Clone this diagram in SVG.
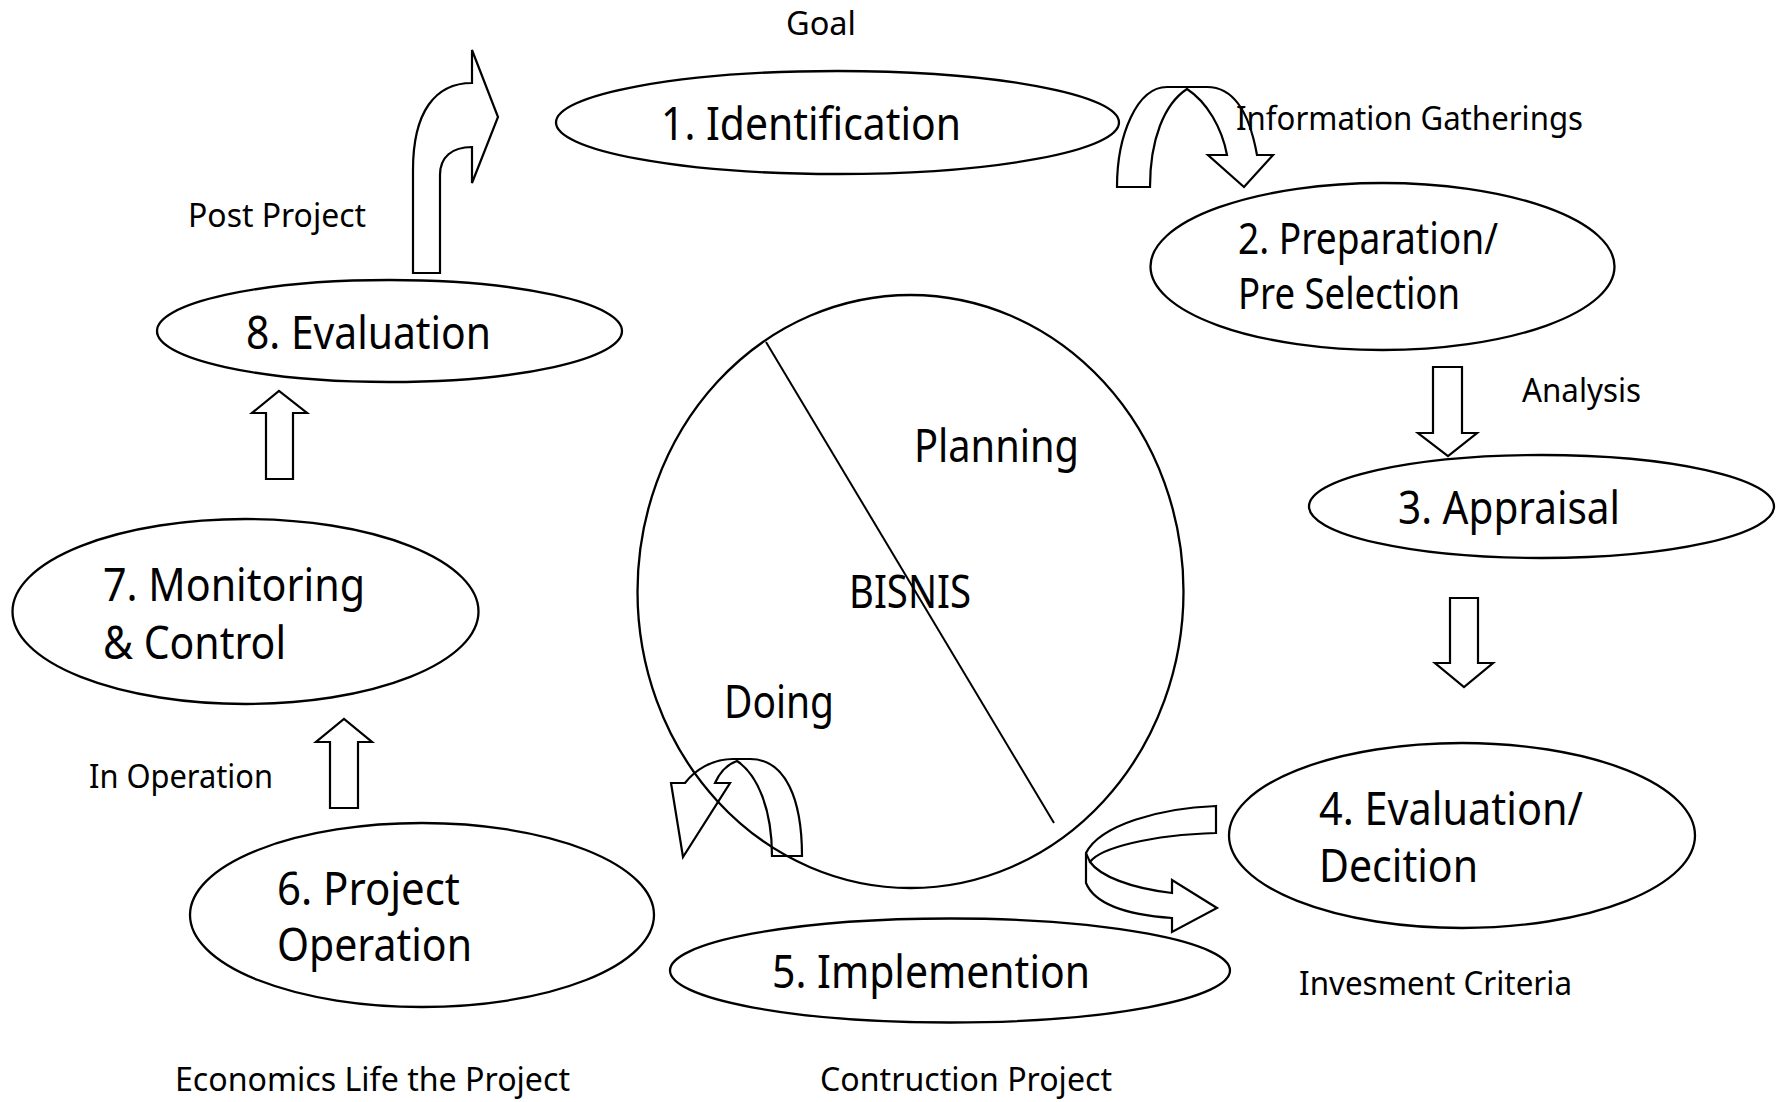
<svg xmlns="http://www.w3.org/2000/svg" width="1786" height="1102" viewBox="0 0 1786 1102">
  <style>
    .node { fill: none; stroke: #000; stroke-width: 2.3; }
    .arrow { fill: none; stroke: #000; stroke-width: 2.2; stroke-linejoin: miter; }
    .big { font-family: "Noto Sans", "Liberation Sans", sans-serif; font-size: 45px; fill: #000; }
    .tight { font-size: 43px; }
    .small { font-family: "Noto Sans", "Liberation Sans", sans-serif; font-size: 32px; fill: #000; }
  </style>
  <rect width="1786" height="1102" fill="#fff"/>

  <!-- central business circle -->
  <g id="bisnis">
    <ellipse class="node" cx="910.5" cy="591.5" rx="273" ry="296.5"/>
    <line x1="766" y1="342" x2="1054" y2="823" stroke="#000" stroke-width="2"/>
    <text class="big" x="914" y="462" textLength="165" lengthAdjust="spacingAndGlyphs">Planning</text>
    <text class="big" x="849" y="608" textLength="122" lengthAdjust="spacingAndGlyphs">BISNIS</text>
    <text class="big" x="724" y="718" textLength="110" lengthAdjust="spacingAndGlyphs">Doing</text>
  </g>

  <g id="identification">
    <ellipse class="node" cx="837.5" cy="122.5" rx="281.5" ry="51.5"/>
    <text class="big" x="661" y="140" textLength="300" lengthAdjust="spacingAndGlyphs">1. Identification</text>
  </g>

  <g id="preparation">
    <ellipse class="node" cx="1382.5" cy="266.5" rx="232" ry="83.5"/>
    <text class="big tight" x="1238" y="254" textLength="260" lengthAdjust="spacingAndGlyphs">2. Preparation/</text>
    <text class="big tight" x="1238" y="309" textLength="222" lengthAdjust="spacingAndGlyphs">Pre Selection</text>
  </g>

  <g id="appraisal">
    <ellipse class="node" cx="1541.5" cy="506.5" rx="232.5" ry="51.5"/>
    <text class="big" x="1398" y="524" textLength="222" lengthAdjust="spacingAndGlyphs">3. Appraisal</text>
  </g>

  <g id="decision">
    <ellipse class="node" cx="1462" cy="835.5" rx="233" ry="92.5"/>
    <text class="big" x="1319" y="825" textLength="264" lengthAdjust="spacingAndGlyphs">4. Evaluation/</text>
    <text class="big" x="1319" y="882" textLength="159" lengthAdjust="spacingAndGlyphs">Decition</text>
  </g>

  <g id="implementation">
    <ellipse class="node" cx="950" cy="970.5" rx="280" ry="52"/>
    <text class="big" x="772" y="988" textLength="318" lengthAdjust="spacingAndGlyphs">5. Implemention</text>
  </g>

  <g id="operation">
    <ellipse class="node" cx="422" cy="915" rx="232" ry="92"/>
    <text class="big" x="277" y="905" textLength="183" lengthAdjust="spacingAndGlyphs">6. Project</text>
    <text class="big" x="277" y="961" textLength="195" lengthAdjust="spacingAndGlyphs">Operation</text>
  </g>

  <g id="monitoring">
    <ellipse class="node" cx="245.5" cy="611.5" rx="233" ry="92.5"/>
    <text class="big" x="103" y="601" textLength="262" lengthAdjust="spacingAndGlyphs">7. Monitoring</text>
    <text class="big" x="103" y="659" textLength="183" lengthAdjust="spacingAndGlyphs">&amp; Control</text>
  </g>

  <g id="evaluation">
    <ellipse class="node" cx="389.5" cy="331" rx="232.5" ry="51"/>
    <text class="big" x="246" y="349" textLength="245" lengthAdjust="spacingAndGlyphs">8. Evaluation</text>
  </g>

  <!-- block arrows between the stages -->
  <g id="connectors">
    <!-- 8 -> 1, bent up and to the right -->
    <path class="arrow" d="M413,273 L440,273 L440,175 C440,157 452,147 472,147 L472,183 L498,117 L472,50 L472,83 C435,83 413,112 413,170 Z"/>
    <!-- 1 -> 2, arched -->
    <path class="arrow" d="M1117,187 L1150,187 C1150,140 1164,104 1187,89 C1207,102 1222,128 1227,155 L1208,155 L1244,187 L1273,155 L1257,155 C1250,116 1236,87 1207,87 L1167,87 C1137,87 1117,135 1117,187 Z"/>
    <!-- 2 -> 3 -->
    <path class="arrow" d="M1433,367 L1462,367 L1462,433 L1477,433 L1448,456 L1418,433 L1433,433 Z"/>
    <!-- 3 -> 4 -->
    <path class="arrow" d="M1450,598 L1478,598 L1478,663 L1493,663 L1464,687 L1435,663 L1450,663 Z"/>
    <!-- 4 -> 5, curling back -->
    <path class="arrow" d="M1216,806 C1160,808 1100,825 1086,853 L1086,883 C1095,905 1130,915 1172,918 L1172,932 L1217,908 L1172,880 L1172,893 C1130,888 1100,876 1090,862 C1100,848 1150,835 1216,833 Z"/>
    <line x1="1086" y1="853" x2="1090" y2="862" stroke="#000" stroke-width="2"/>
    <!-- 5 -> 6, arched over -->
    <path class="arrow" d="M802,856 C802,800 786,759 750,759 L733,759 C712,759 695,770 685,783 L671,783 L683,857 L730,783 L715,783 C720,772 728,764 737,761 C758,775 772,810 772,856 Z"/>
    <!-- 6 -> 7 -->
    <path class="arrow" d="M330,808 L358,808 L358,742 L372,742 L344,719 L316,742 L330,742 Z"/>
    <!-- 7 -> 8 -->
    <path class="arrow" d="M266,479 L293,479 L293,413 L307,413 L279,391 L252,413 L266,413 Z"/>
  </g>

  <!-- phase labels -->
  <g id="labels">
    <text class="small" x="786" y="35" textLength="70" lengthAdjust="spacingAndGlyphs">Goal</text>
    <text class="small" x="1236" y="130" textLength="347" lengthAdjust="spacingAndGlyphs">Information Gatherings</text>
    <text class="small" x="1522" y="402" textLength="119" lengthAdjust="spacingAndGlyphs">Analysis</text>
    <text class="small" x="1299" y="995" textLength="273" lengthAdjust="spacingAndGlyphs">Invesment Criteria</text>
    <text class="small" x="820" y="1091" textLength="292" lengthAdjust="spacingAndGlyphs">Contruction Project</text>
    <text class="small" x="175" y="1091" textLength="395" lengthAdjust="spacingAndGlyphs">Economics Life the Project</text>
    <text class="small" x="89" y="788" textLength="184" lengthAdjust="spacingAndGlyphs">In Operation</text>
    <text class="small" x="188" y="227" textLength="178" lengthAdjust="spacingAndGlyphs">Post Project</text>
  </g>
</svg>
